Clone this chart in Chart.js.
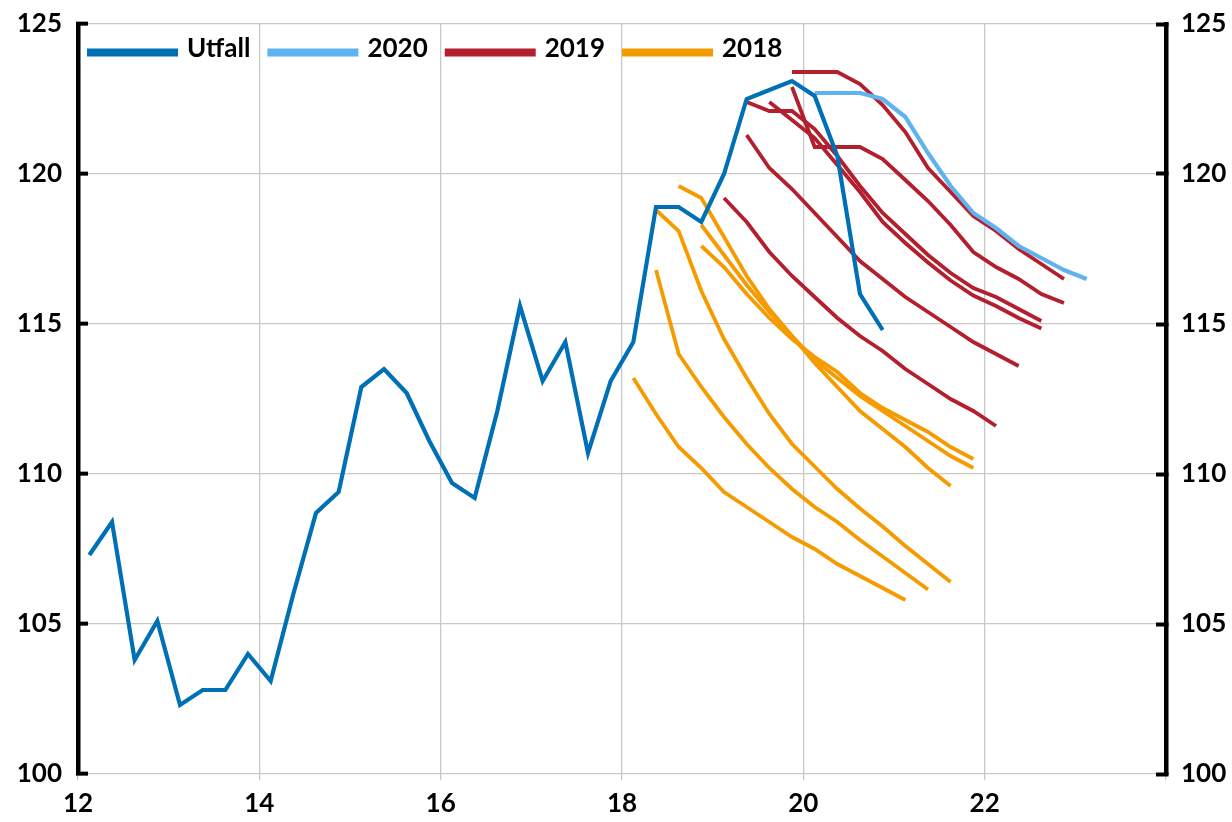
<!DOCTYPE html>
<html>
<head>
<meta charset="utf-8">
<script src="https://cdn.jsdelivr.net/npm/chart.js@4.4.1/dist/chart.umd.min.js"></script>
<style>
  html, body { margin: 0; padding: 0; background: #ffffff; }
  #wrap { width: 1232px; height: 822px; }
</style>
</head>
<body>
<div id="wrap"><canvas id="c" width="1232" height="822"></canvas></div>
<script>
// ---- Data (quarterly index values, start quarter given as "YYQn") ----
const xTickLabels = [12, 14, 16, 18, 20, 22];

const utfallStart = '12Q1';
const utfallValues = [107.3,108.4,103.8,105.1,102.3,102.8,102.8,104.0,103.1,106.0,108.7,109.4,
  112.9,113.5,112.7,111.1,109.7,109.2,112.1,115.6,113.1,114.4,110.7,113.1,
  114.4,118.9,118.9,118.4,120.0,122.5,122.8,123.1,122.6,120.6,116.0,114.8];

const f2020Start = '20Q1';
const f2020Values = [122.7,122.7,122.7,122.5,121.9,120.7,119.6,118.7,118.2,117.6,117.2,116.8,116.5];

const f2019Starts = ['19Q4','19Q4','19Q2','19Q3','19Q2','19Q1'];
const f2019A = [123.4,123.4,123.4,123.0,122.3,121.4,120.2,119.4,118.6,118.1,117.5,117.0,116.5];
const f2019B = [122.9,120.9,120.9,120.9,120.5,119.8,119.1,118.3,117.4,116.9,116.5,116.0,115.7];
const f2019C = [122.4,122.1,122.1,121.5,120.6,119.6,118.7,118.0,117.3,116.7,116.2,115.9,115.5,115.1];
const f2019D = [122.4,121.8,121.2,120.3,119.4,118.4,117.7,117.05,116.45,115.95,115.6,115.2,114.85];
const f2019E = [121.3,120.2,119.5,118.7,117.9,117.1,116.5,115.9,115.4,114.9,114.4,114.0,113.6];
const f2019F = [119.2,118.4,117.4,116.6,115.9,115.2,114.6,114.1,113.5,113.0,112.5,112.1,111.6];

const f2018Starts = ['18Q1','18Q2','18Q2','18Q3','18Q4','18Q4'];
const f2018A = [113.2,112.0,110.9,110.2,109.4,108.9,108.4,107.9,107.5,107.0,106.6,106.2,105.8];
const f2018B = [116.8,114.0,112.9,111.9,111.0,110.2,109.5,108.9,108.4,107.8,107.25,106.7,106.15];
const f2018C = [118.8,118.1,116.1,114.5,113.2,112.0,111.0,110.25,109.5,108.85,108.25,107.6,107.0,106.4];
const f2018D = [119.6,119.2,117.9,116.6,115.5,114.6,113.7,112.9,112.1,111.5,110.9,110.2,109.6];
const f2018E = [117.6,116.9,116.0,115.2,114.5,113.9,113.4,112.7,112.2,111.8,111.4,110.9,110.5];
const f2018F = [118.3,117.3,116.3,115.4,114.6,113.8,113.2,112.6,112.1,111.6,111.1,110.6,110.2];

// ---- Helpers ----
function quarterPos(q) {            // "18Q3" -> mid-quarter position on the year axis
  const [yy, qq] = q.split('Q');
  return Number(yy) + (Number(qq) - 0.5) / 4;
}
function toPoints(start, values) {
  const x0 = quarterPos(start);
  return values.map((v, i) => ({ x: x0 + i * 0.25, y: v }));
}

const C_UTFALL = '#0070B6';
const C_2020 = '#5FB3EE';
const C_2019 = '#B31F2D';
const C_2018 = '#F59B00';

function ds(label, color, start, values, width) {
  return {
    label: label,
    data: toPoints(start, values),
    borderColor: color,
    backgroundColor: color,
    borderWidth: width,
    pointRadius: 0,
    tension: 0,
    fill: false,
    borderJoinStyle: 'miter',
    borderCapStyle: 'butt'
  };
}

const datasets = [
  ds('Utfall', C_UTFALL, utfallStart, utfallValues, 4.2),
  ds('2020', C_2020, f2020Start, f2020Values, 4.2)
];
[f2019A, f2019B, f2019C, f2019D, f2019E, f2019F].forEach((v, i) =>
  datasets.push(ds('2019', C_2019, f2019Starts[i], v, 3.8)));
[f2018A, f2018B, f2018C, f2018D, f2018E, f2018F].forEach((v, i) =>
  datasets.push(ds('2018', C_2018, f2018Starts[i], v, 3.8)));

const FAMILY = 'Lato, "Liberation Sans", sans-serif';
const FONT = { family: FAMILY, size: 26, weight: 'bold' };
const GRID = '#c8c8c8';

// Legend drawn inside the plot area, in one row (one entry per series group)
const insideLegend = {
  id: 'insideLegend',
  afterDatasetsDraw(chart) {
    const ctx = chart.ctx, a = chart.chartArea;
    const seen = new Set(), items = [];
    chart.data.datasets.forEach(d => {
      if (!seen.has(d.label)) { seen.add(d.label); items.push({ text: d.label, color: d.borderColor }); }
    });
    ctx.save();
    ctx.font = 'bold 26px ' + FAMILY;
    ctx.textBaseline = 'alphabetic';
    ctx.textAlign = 'left';
    let x = a.left + 9;
    const base = a.top + 33;
    items.forEach(it => {
      ctx.fillStyle = it.color;
      ctx.fillRect(x, base - 8.5, 91, 8);
      x += 91 + 9;
      ctx.fillStyle = '#000';
      ctx.fillText(it.text, x, base);
      x += ctx.measureText(it.text).width + 17;
    });
    ctx.restore();
  }
};

function fitY(width) {
  return function (s) { s.width = width; s.paddingTop = 0; s.paddingBottom = 0; };
}

new Chart(document.getElementById('c'), {
  type: 'line',
  data: { datasets: datasets },
  plugins: [insideLegend],
  options: {
    responsive: false,
    animation: false,
    devicePixelRatio: 1,
    layout: { padding: { top: 24, left: 0, right: 0, bottom: 0 } },
    plugins: {
      tooltip: { enabled: false },
      legend: { display: false }
    },
    scales: {
      x: {
        type: 'linear',
        position: 'bottom',
        min: 12, max: 24,
        afterBuildTicks(s) { s.ticks = xTickLabels.map(v => ({ value: v })).concat([{ value: 24 }]); },
        ticks: {
          color: '#000', font: FONT, padding: 8, maxRotation: 0,
          callback: v => (xTickLabels.includes(v) ? String(v) : '')
        },
        grid: { color: GRID, lineWidth: 1.3, tickColor: GRID, tickLength: 6, drawTicks: true },
        border: { display: false },
        afterFit(s) { s.height = 48; }
      },
      y: {
        position: 'left',
        min: 100, max: 125,
        ticks: { stepSize: 5, color: '#000', font: FONT, padding: 26 },
        grid: { color: GRID, lineWidth: 1.3, tickColor: '#000', tickWidth: 4, tickLength: -10, drawTicks: true },
        border: { display: true, color: '#000', width: 4.5 },
        afterFit: fitY(78)
      },
      y2: {
        position: 'right',
        min: 100, max: 125,
        ticks: { stepSize: 5, color: '#000', font: FONT, padding: 25 },
        grid: { drawOnChartArea: false, tickColor: '#000', tickWidth: 4, tickLength: -10, drawTicks: true },
        border: { display: true, color: '#000', width: 4.5 },
        afterFit: fitY(66)
      }
    }
  }
});
</script>
</body>
</html>
